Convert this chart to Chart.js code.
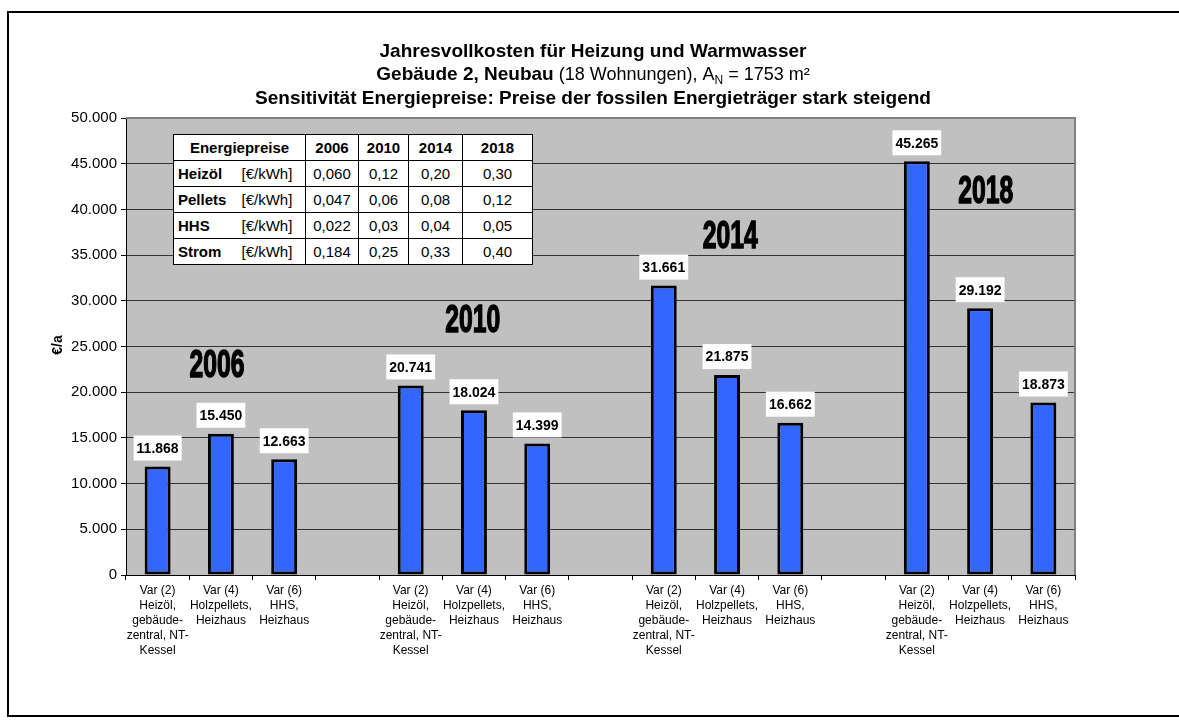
<!DOCTYPE html>
<html>
<head>
<meta charset="utf-8">
<script src="https://cdn.jsdelivr.net/npm/chart.js@4.4.1/dist/chart.umd.min.js"></script>
<style>
html, body { margin: 0; padding: 0; background: #fff; }
#wrap { position: relative; width: 1179px; height: 724px; overflow: hidden; }
#frame { position: absolute; left: 7px; top: 11px; width: 1300px; height: 706px; border: 2px solid #000; box-sizing: border-box; }
#chart { position: absolute; left: 0; top: 0; }
#prices { position: absolute; left: 173px; top: 134px; width: 359px; table-layout: fixed; border-collapse: collapse; background: #fff;
  font: 15px "Liberation Sans", Arial, sans-serif; color: #000; }
#prices td, #prices th { border: 1px solid #000; padding: 0; text-align: center; white-space: nowrap; }
#prices tr { height: 26px; }
#prices th { font-weight: bold; }
#prices td.name { font-weight: bold; text-align: left; padding-left: 4px; border-right: none; }
#prices td.unit { border-left: none; text-align: left; }
</style>
</head>
<body>
<div id="wrap">
  <div id="frame"></div>
  <canvas id="chart" width="1179" height="724"></canvas>
  <table id="prices">
    <colgroup><col style="width:68px"><col style="width:64px"><col style="width:53px"><col style="width:50px"><col style="width:54px"><col style="width:70px"></colgroup>
  </table>
</div>
<script>
// --- data ---
const years = ['2006', '2010', '2014', '2018'];
const variants = [
  ['Var (2)', 'Heizöl,', 'gebäude-', 'zentral, NT-', 'Kessel'],
  ['Var (4)', 'Holzpellets,', 'Heizhaus'],
  ['Var (6)', 'HHS,', 'Heizhaus']
];
const cost2006 = [11868, 15450, 12663];
const cost2010 = [20741, 18024, 14399];
const cost2014 = [31661, 21875, 16662];
const cost2018 = [45265, 29192, 18873];
const yTicks = [0, 5000, 10000, 15000, 20000, 25000, 30000, 35000, 40000, 45000, 50000];

// price table
const fuels = ['Heizöl', 'Pellets', 'HHS', 'Strom'];
const priceUnit = '[€/kWh]';
const priceHeizoel = ['0,060', '0,12', '0,20', '0,30'];
const pricePellets = ['0,047', '0,06', '0,08', '0,12'];
const priceHHS = ['0,022', '0,03', '0,04', '0,05'];
const priceStrom = ['0,184', '0,25', '0,33', '0,40'];

const FONT = '"Liberation Sans", Arial, sans-serif';
const fmt = v => String(v).replace(/\B(?=(\d{3})+(?!\d))/g, '.');

// build categories with an empty slot between year groups
const labels = [];
const values = [];
[cost2006, cost2010, cost2014, cost2018].forEach((group, i) => {
  if (i > 0) { labels.push(''); values.push(null); }
  group.forEach((v, j) => { labels.push(variants[j]); values.push(v); });
});

// --- price table ---
const table = document.getElementById('prices');
let html = '<tr><th colspan="2">Energiepreise</th>' + years.map(y => '<th>' + y + '</th>').join('') + '</tr>';
[priceHeizoel, pricePellets, priceHHS, priceStrom].forEach((row, i) => {
  html += '<tr><td class="name">' + fuels[i] + '</td><td class="unit">' + priceUnit + '</td>' +
    row.map(p => '<td>' + p + '</td>').join('') + '</tr>';
});
table.insertAdjacentHTML('beforeend', html);

// --- plugins ---
const backdrop = {
  id: 'backdrop',
  beforeDraw(chart) {
    const { ctx, chartArea: a } = chart;
    ctx.save();
    ctx.fillStyle = '#c0c0c0';
    ctx.fillRect(a.left, a.top, a.right - a.left, a.bottom - a.top);
    ctx.restore();
  },
  afterDraw(chart) {
    const { ctx, chartArea: a } = chart;
    ctx.save();
    ctx.strokeStyle = '#808080';
    ctx.lineWidth = 2;
    ctx.beginPath();
    ctx.moveTo(a.left, a.top);
    ctx.lineTo(a.right, a.top);
    ctx.lineTo(a.right, a.bottom);
    ctx.stroke();
    ctx.restore();
  }
};

const titles = {
  id: 'titles',
  afterDraw(chart) {
    const ctx = chart.ctx;
    const cx = 593;
    ctx.save();
    ctx.fillStyle = '#000';
    ctx.textBaseline = 'alphabetic';
    ctx.textAlign = 'center';
    ctx.font = 'bold 19px ' + FONT;
    ctx.fillText('Jahresvollkosten für Heizung und Warmwasser', cx, 57);
    ctx.fillText('Sensitivität Energiepreise: Preise der fossilen Energieträger stark steigend', cx, 104);

    // second line with mixed weights and subscript
    const parts = [
      { t: 'Gebäude 2, Neubau', f: 'bold 19px ' + FONT, dy: 0 },
      { t: ' (18 Wohnungen), A', f: '18px ' + FONT, dy: 0 },
      { t: 'N', f: '12px ' + FONT, dy: 4 },
      { t: ' = 1753 m²', f: '18px ' + FONT, dy: 0 }
    ];
    ctx.textAlign = 'left';
    let total = 0;
    parts.forEach(p => { ctx.font = p.f; p.w = ctx.measureText(p.t).width; total += p.w; });
    let x = cx - total / 2;
    parts.forEach(p => { ctx.font = p.f; ctx.fillText(p.t, x, 80 + p.dy); x += p.w; });

    // y axis title
    ctx.translate(58, 345);
    ctx.rotate(-Math.PI / 2);
    ctx.textAlign = 'center';
    ctx.textBaseline = 'middle';
    ctx.font = 'bold 14px ' + FONT;
    ctx.fillText('€/a', 0, 0);
    ctx.restore();
  }
};

const barLabels = {
  id: 'barLabels',
  afterDatasetsDraw(chart) {
    const ctx = chart.ctx;
    const meta = chart.getDatasetMeta(0);
    ctx.save();
    ctx.font = 'bold 14px ' + FONT;
    ctx.textAlign = 'center';
    ctx.textBaseline = 'middle';
    meta.data.forEach((bar, i) => {
      const v = chart.data.datasets[0].data[i];
      if (v == null) return;
      const txt = fmt(v);
      const w = ctx.measureText(txt).width + 6;
      const h = 25;
      const bottom = bar.y - 6;
      ctx.fillStyle = '#fff';
      ctx.fillRect(bar.x - w / 2, bottom - h, w, h);
      ctx.fillStyle = '#000';
      ctx.fillText(txt, bar.x, bottom - h / 2 + 1);
    });
    ctx.restore();
  }
};

const yearMarks = {
  id: 'yearMarks',
  afterDatasetsDraw(chart, args, opts) {
    const ctx = chart.ctx;
    const xs = chart.scales.x, ys = chart.scales.y;
    ctx.save();
    ctx.font = 'bold 39px ' + FONT;
    ctx.fillStyle = '#000';
    ctx.strokeStyle = '#000';
    ctx.lineWidth = 1.5;
    ctx.textAlign = 'center';
    ctx.textBaseline = 'alphabetic';
    opts.spots.forEach((s, i) => {
      const px = xs.getPixelForValue(s.x);
      const py = ys.getPixelForValue(s.y);
      const w = ctx.measureText(years[i]).width;
      ctx.save();
      ctx.translate(px, py + 14);
      ctx.scale(55 / w, 1);
      ctx.fillText(years[i], 0, 0);
      ctx.strokeText(years[i], 0, 0);
      ctx.restore();
    });
    ctx.restore();
  }
};

// --- chart ---
new Chart(document.getElementById('chart'), {
  type: 'bar',
  data: {
    labels: labels,
    datasets: [{
      data: values,
      backgroundColor: '#3366ff',
      borderColor: '#000',
      borderWidth: 3,
      borderSkipped: false,
      categoryPercentage: 1,
      barPercentage: 0.41
    }]
  },
  options: {
    responsive: false,
    devicePixelRatio: 1,
    animation: false,
    layout: { padding: { top: 118, right: 104, left: 0, bottom: 0 } },
    plugins: {
      legend: { display: false },
      tooltip: { enabled: false },
      title: { display: false },
      yearMarks: {
        spots: [
          { x: 0.94, y: 23200 },
          { x: 4.98, y: 28100 },
          { x: 9.05, y: 37300 },
          { x: 13.09, y: 42250 }
        ]
      }
    },
    scales: {
      x: {
        offset: true,
        grid: { display: true, drawOnChartArea: false, offset: true, tickLength: 5, tickColor: '#000' },
        border: { color: '#000', width: 1 },
        ticks: { color: '#000', font: { family: FONT, size: 12, lineHeight: 1.25 }, padding: 3, maxRotation: 0, autoSkip: false },
        afterFit: s => { s.height = 149; }
      },
      y: {
        min: 0,
        max: 50000,
        afterBuildTicks: s => { s.ticks = yTicks.map(v => ({ value: v })); },
        grid: {
          color: c => (c.tick && c.tick.value === 50000) ? 'rgba(0,0,0,0)' : '#333',
          tickColor: '#000',
          tickLength: 5,
          lineWidth: 1
        },
        border: { color: '#000', width: 1 },
        ticks: { color: '#000', font: { family: FONT, size: 15 }, padding: 4, callback: v => fmt(v) },
        afterFit: s => { s.width = 126; }
      }
    }
  },
  plugins: [backdrop, titles, barLabels, yearMarks]
});
</script>
</body>
</html>
